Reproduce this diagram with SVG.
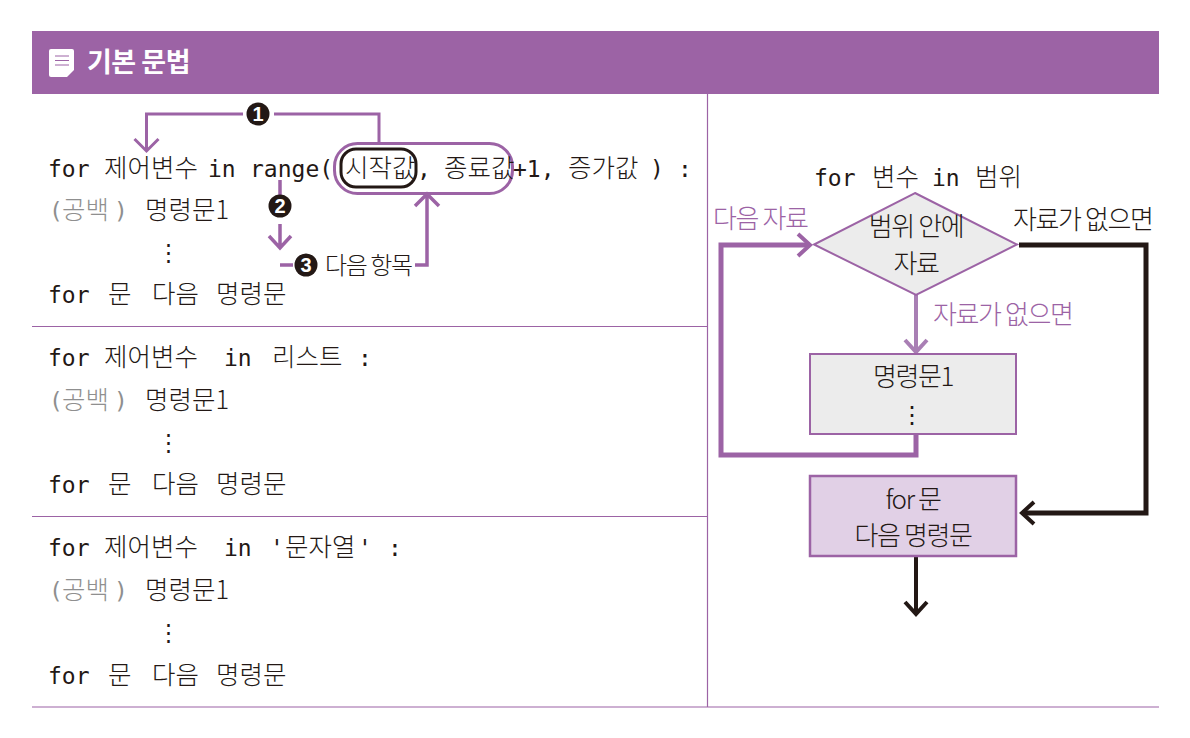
<svg xmlns="http://www.w3.org/2000/svg" width="1190" height="738" viewBox="0 0 1190 738">
<style>
text{font-family:"DejaVu Sans Mono","Liberation Mono","Noto Sans CJK KR",monospace;font-size:23px;fill:#231815}
.k{font-family:"Noto Sans CJK KR","Noto Sans",sans-serif;font-weight:300;font-size:25.500px}
.s{font-family:"Noto Sans CJK KR","Noto Sans",sans-serif;font-weight:300;font-size:26px;letter-spacing:-1.400px}
.c{text-anchor:middle}
.g{fill:#8f8f8f}
.p{fill:#9c63a5}
.n{font-family:"Liberation Sans","Noto Sans CJK KR",sans-serif;font-weight:700;fill:#fff;font-size:20px;text-anchor:middle}
.rule{stroke:#9c63a5;stroke-width:1.2;fill:none}
.pl{stroke:#9c63a5;fill:none}
.bl{stroke:#231815;fill:none}
</style>
<rect width="1190" height="738" fill="#fff"/>
<g id="header">
<rect x="32" y="31" width="1127" height="63" fill="#9c63a5"/>
<path d="M51 49h21a2 2 0 0 1 2 2v19l-7 7H51a2 2 0 0 1-2-2V51a2 2 0 0 1 2-2z" fill="#fff"/>
<path d="M55 56h14M55 60.500h14M55 65h14" stroke="#9c63a5" stroke-width="1"/>
<text x="87" y="72" class="k" style="font-weight:700;font-size:27px;fill:#fff;letter-spacing:-.5px">기본 문법</text>
</g>
<g id="rules">
<path class="rule" d="M707.500 94V707M32 326.500H707.500M32 516.500H707.500M32 707H1159"/>
</g>
<g id="connectors">
<path class="pl" stroke-width="3" d="M379 143V114H274M243 114H146.500V150"/>
<path class="pl" stroke-width="3" d="M134.500 139L146.500 151L158.500 139"/>
<path class="pl" stroke-width="3.500" d="M280 180V197M280 224V248M269 236L280 248L291 236"/>
<path class="pl" stroke-width="3.500" d="M280 265H293M415 265H427V196M415 206L427 194L439 206"/>
<rect x="334.500" y="143.500" width="178" height="50" rx="23" class="pl" stroke-width="3"/>
<rect x="341" y="149" width="75" height="38" rx="15" class="bl" stroke-width="3"/>
<path class="pl" stroke-width="5" d="M810 245H721V455H916V434"/>
<path class="pl" stroke-width="4" d="M798 234L810 245L798 256"/>
<path class="pl" stroke-width="4" style="stroke:#a97fb4" d="M916 295V352M905 340L916 352L927 340"/>
<path class="bl" stroke-width="5" d="M1019 245H1146V513H1022"/>
<path class="bl" stroke-width="4" d="M1034 502L1022 513L1034 524"/>
<path class="bl" stroke-width="4" d="M916 556V614M905 602L916 614L927 602"/>
</g>
<g id="marker-1"><circle cx="258" cy="114" r="11.500" fill="#231815"/><text x="258" y="121" class="n">1</text></g>
<g id="marker-2"><circle cx="280" cy="206" r="11.500" fill="#231815"/><text x="280" y="213" class="n">2</text></g>
<g id="marker-3"><circle cx="306" cy="265" r="11.500" fill="#231815"/><text x="306" y="272" class="n">3</text></g>
<g id="code-1">
<text x="48" y="177">for</text><text x="104" y="177" class="k">제어변수</text><text x="208" y="177">in</text><text x="250" y="177">range(</text>
<text x="345" y="177" class="k">시작값</text><text x="417" y="177">,</text><text x="444" y="177" class="k">종료값</text><text x="513" y="177">+1,</text><text x="568" y="177" class="k">증가값</text><text x="650" y="177">)</text><text x="678" y="177">:</text>
<text x="49" y="219" class="g">(</text><text x="62" y="219" class="k g">공백</text><text x="114" y="219" class="g">)</text><text x="145" y="219" class="k">명령문1</text>
<text x="168" y="260" class="c">⋮</text>
<text x="325" y="274" class="s" style="font-size:24px">다음 항목</text>
<text x="48" y="303">for</text><text x="108" y="303" class="k">문</text><text x="152" y="303" class="k">다음</text><text x="216" y="303" class="k">명령문</text>
</g>
<g id="code-2">
<text x="48" y="366">for</text><text x="104" y="366" class="k">제어변수</text><text x="224" y="366">in</text><text x="272" y="366" class="k">리스트</text><text x="358" y="366">:</text>
<text x="49" y="409" class="g">(</text><text x="62" y="409" class="k g">공백</text><text x="114" y="409" class="g">)</text><text x="145" y="409" class="k">명령문1</text>
<text x="168" y="450" class="c">⋮</text>
<text x="48" y="493">for</text><text x="108" y="493" class="k">문</text><text x="152" y="493" class="k">다음</text><text x="216" y="493" class="k">명령문</text>
</g>
<g id="code-3">
<text x="48" y="556">for</text><text x="104" y="556" class="k">제어변수</text><text x="224" y="556">in</text><text x="270" y="556">'</text><text x="285" y="556" class="k">문자열</text><text x="358" y="556">'</text><text x="388" y="556">:</text>
<text x="49" y="599" class="g">(</text><text x="62" y="599" class="k g">공백</text><text x="114" y="599" class="g">)</text><text x="145" y="599" class="k">명령문1</text>
<text x="168" y="640" class="c">⋮</text>
<text x="48" y="684">for</text><text x="108" y="684" class="k">문</text><text x="152" y="684" class="k">다음</text><text x="216" y="684" class="k">명령문</text>
</g>
<g id="flow-title"><text x="814" y="186">for</text><text x="872" y="186" class="k">변수</text><text x="932" y="186">in</text><text x="975" y="186" class="k">범위</text></g>
<g id="decision">
<polygon points="915,193 1017,244.500 916,295 814,244.500" fill="#ececec" stroke="#9c63a5" stroke-width="2"/>
<text x="916" y="236" class="s c">범위 안에</text><text x="916" y="273" class="s c">자료</text>
</g>
<g id="body">
<rect x="810" y="354" width="206" height="80" fill="#ececec" stroke="#9c63a5" stroke-width="2"/>
<text x="913" y="386" class="s c">명령문1</text><text x="912" y="423" class="c" style="font-size:24px">⋮</text>
</g>
<g id="next">
<rect x="810" y="476" width="206" height="80" fill="#e1d0e6" stroke="#9c63a5" stroke-width="2.500"/>
<text x="913" y="509" class="s c">for 문</text><text x="913" y="545" class="s c">다음 명령문</text>
</g>
<g id="labels">
<text x="713" y="228" class="s p">다음 자료</text>
<text x="1013" y="229" class="s">자료가 없으면</text>
<text x="933" y="324" class="s p">자료가 없으면</text>
</g>
</svg>
